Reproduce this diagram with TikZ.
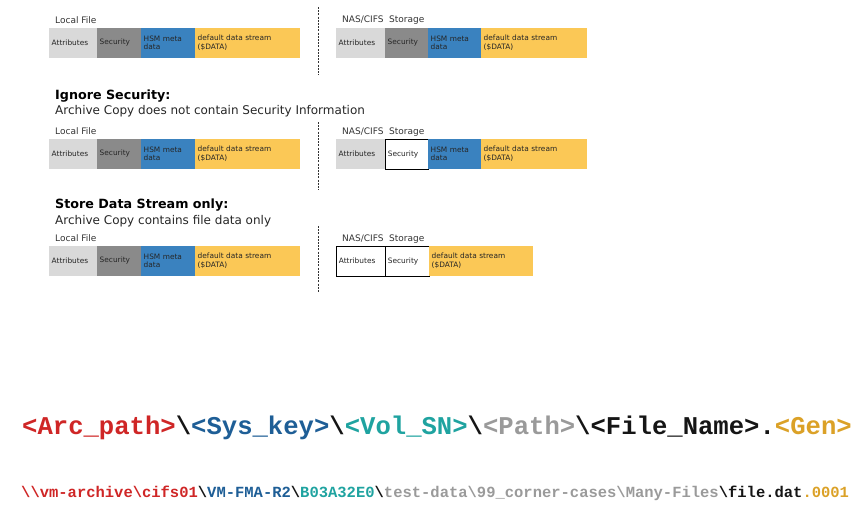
\documentclass[tikz,border=0pt]{standalone}
\usepackage{fontspec}
\setmainfont{DejaVu Sans}
\newfontfamily\pathfont{Liberation Mono}
\usetikzlibrary{positioning}
\definecolor{attrc}{HTML}{D9D9D9}
\definecolor{secc}{HTML}{8A8A8A}
\definecolor{hsmc}{HTML}{3A82BF}
\definecolor{datac}{HTML}{FBC856}
\definecolor{lblc}{HTML}{333333}
\definecolor{pred}{HTML}{CF2626}
\definecolor{pblue}{HTML}{1E5E96}
\definecolor{pteal}{HTML}{1FA3A0}
\definecolor{pgray}{HTML}{9A9A9A}
\definecolor{pgold}{HTML}{DBA127}
\definecolor{pblk}{HTML}{151515}
\newcommand\segbox[7]{\node[segbox,#6,text width=#5pt,minimum width=#4pt,anchor=north west] (#1) at (#2,#3) {#7};}
\newcommand\bs{\textbackslash}
\begin{document}
\begin{tikzpicture}[x=1pt,y=-1pt,
  segbox/.style={inner xsep=2.5pt,inner ysep=0pt,minimum height=29.5pt,align=left,
    font=\fontsize{7.4}{8.6}\selectfont,text=black!85},
  attrfill/.style={fill=attrc},
  secfill/.style={fill=secc},
  secwhite/.style={fill=white,draw=black,line width=0.8pt},
  attrwhite/.style={fill=white,draw=black,line width=0.8pt},
  hsmfill/.style={fill=hsmc},
  datfill/.style={fill=datac},
  captext/.style={anchor=base west,inner sep=0pt,font=\fontsize{9}{10}\selectfont,text=lblc},
  headtext/.style={anchor=base west,inner sep=0pt,font=\fontsize{12.7}{15}\selectfont\bfseries,text=black},
  subtext/.style={anchor=base west,inner sep=0pt,font=\fontsize{12}{14}\selectfont,text=black!85},
  sepline/.style={draw=black!80,line width=1pt,dash pattern=on 2pt off 1.2pt},
  pathA/.style={anchor=west,inner sep=0pt,font=\pathfont\bfseries\fontsize{25.6}{28}\selectfont},
  pathB/.style={anchor=west,inner sep=0pt,font=\pathfont\bfseries\fontsize{15.5}{17}\selectfont}]
\useasboundingbox (0,0) rectangle (865,507);
% ---------- Row 1 ----------
\node[captext] (lf1) at (55,23) {Local File};
\segbox{l1a}{49}{28}{48}{43}{attrfill}{Attributes}
\segbox{l1s}{97}{28}{44}{39}{secfill}{Security}
\segbox{l1h}{141}{28}{54}{49}{hsmfill}{HSM meta\\data}
\segbox{l1d}{195}{28}{105}{100}{datfill}{default data stream\\(\$DATA)}
\node[captext] (ns1) at (342,22) {NAS/CIFS\ \ Storage};
\segbox{r1a}{336}{28}{49}{44}{attrfill}{Attributes}
\segbox{r1s}{385}{28}{43}{38}{secfill}{Security}
\segbox{r1h}{428}{28}{53}{48}{hsmfill}{HSM meta\\data}
\segbox{r1d}{481}{28}{106}{101}{datfill}{default data stream\\(\$DATA)}
\coordinate (d1a) at (318,7);
\coordinate (d1b) at (318,75);
\draw[sepline] (d1a) -- (d1b);
% ---------- Row 2 ----------
\node[headtext] (h2) at (55,99) {Ignore Security:};
\node[subtext] (s2) at (55,114) {Archive Copy does not contain Security Information};
\node[captext] (lf2) at (55,134) {Local File};
\segbox{l2a}{49}{139}{48}{43}{attrfill}{Attributes}
\segbox{l2s}{97}{139}{44}{39}{secfill}{Security}
\segbox{l2h}{141}{139}{54}{49}{hsmfill}{HSM meta\\data}
\segbox{l2d}{195}{139}{105}{100}{datfill}{default data stream\\(\$DATA)}
\node[captext] (ns2) at (342,134) {NAS/CIFS\ \ Storage};
\segbox{r2a}{336}{139}{49}{44}{attrfill}{Attributes}
\segbox{r2s}{385}{139}{43}{38}{secwhite}{Security}
\segbox{r2h}{428}{139}{53}{48}{hsmfill}{HSM meta\\data}
\segbox{r2d}{481}{139}{106}{101}{datfill}{default data stream\\(\$DATA)}
\coordinate (d2a) at (318,122);
\coordinate (d2b) at (318,190);
\draw[sepline] (d2a) -- (d2b);
% ---------- Row 3 ----------
\node[headtext] (h3) at (55,208) {Store Data Stream only:};
\node[subtext] (s3) at (55,224) {Archive Copy contains file data only};
\node[captext] (lf3) at (55,241) {Local File};
\segbox{l3a}{49}{246}{48}{43}{attrfill}{Attributes}
\segbox{l3s}{97}{246}{44}{39}{secfill}{Security}
\segbox{l3h}{141}{246}{54}{49}{hsmfill}{HSM meta\\data}
\segbox{l3d}{195}{246}{105}{100}{datfill}{default data stream\\(\$DATA)}
\node[captext] (ns3) at (342,241) {NAS/CIFS\ \ Storage};
\segbox{r3a}{336}{246}{49}{44}{attrwhite}{Attributes}
\segbox{r3s}{385}{246}{44}{39}{secwhite}{Security}
\segbox{r3d}{429}{246}{104}{99}{datfill}{default data stream\\(\$DATA)}
\coordinate (d3a) at (318,226);
\coordinate (d3b) at (318,292);
\draw[sepline] (d3a) -- (d3b);
% ---------- Path template ----------
\node[pathA] (pt) at (22,428) {\textcolor{pred}{<Arc\_path>}\textcolor{pblk}{\bs}\textcolor{pblue}{<Sys\_key>}\textcolor{pblk}{\bs}\textcolor{pteal}{<Vol\_SN>}\textcolor{pblk}{\bs}\textcolor{pgray}{<Path>}\textcolor{pblk}{\bs<File\_Name>.}\textcolor{pgold}{<Gen>}};
\node[pathB] (pe) at (21,493) {\textcolor{pred}{\bs\bs vm-archive\bs cifs01}\textcolor{pblk}{\bs}\textcolor{pblue}{VM-FMA-R2}\textcolor{pblk}{\bs}\textcolor{pteal}{B03A32E0}\textcolor{pblk}{\bs}\textcolor{pgray}{test-data\bs 99\_corner-cases\bs Many-Files}\textcolor{pblk}{\bs file.dat}\textcolor{pgold}{.0001}};
\end{tikzpicture}
\end{document}
